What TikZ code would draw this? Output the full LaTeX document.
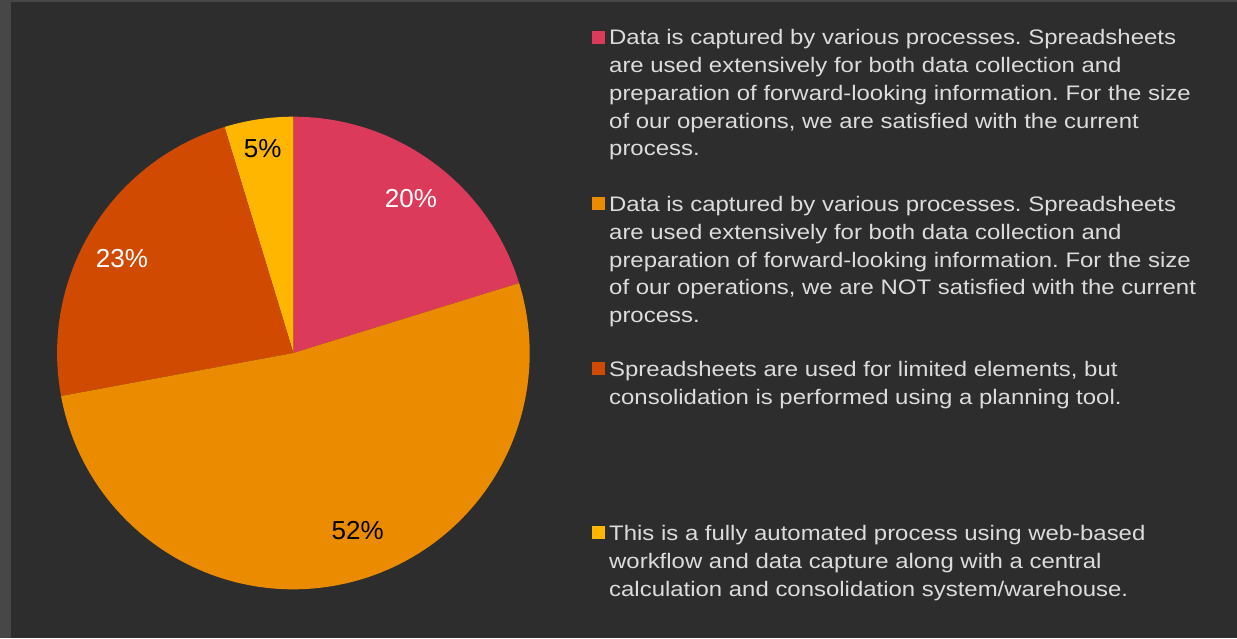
\documentclass[tikz,border=0pt]{standalone}
\usepackage{fontspec}
\setmainfont{Liberation Sans}
\newfontfamily\legfont[FakeStretch=1.14]{Liberation Sans}
\frenchspacing
\definecolor{bgc}{HTML}{2D2D2D}
\definecolor{framec}{HTML}{474747}
\definecolor{rosec}{HTML}{DB3A5A}
\definecolor{orangec}{HTML}{EB8C00}
\definecolor{darkorangec}{HTML}{D04A02}
\definecolor{yellowc}{HTML}{FFB600}
\definecolor{legtext}{HTML}{DCDCDC}
\begin{document}
\begin{tikzpicture}[x=1pt,y=1pt,
  pct/.style={font=\fontsize{26}{30}\selectfont, inner sep=0pt, anchor=center},
  legitem/.style={font=\legfont\fontsize{21}{27.7}\selectfont, text=legtext, align=left, inner sep=0pt, anchor=base west},
  legkey/.style={minimum size=13pt, inner sep=0pt, anchor=south west}]
% background
\fill[framec] (0,0) rectangle (1237,638);
\fill[bgc] (11,0) rectangle (1237,636);
\useasboundingbox (0,0) rectangle (1237,638);
% pie
\coordinate (ctr) at (293.4,285);
\def\R{236.3}
\fill[rosec] (ctr) -- ++(17.2:\R) arc[start angle=17.2, end angle=90, radius=\R] -- cycle;
\fill[yellowc] (ctr) -- ++(90:\R) arc[start angle=90, end angle=106.95, radius=\R] -- cycle;
\fill[darkorangec] (ctr) -- ++(106.95:\R) arc[start angle=106.95, end angle=190.5, radius=\R] -- cycle;
\fill[orangec] (ctr) -- ++(190.5:\R) arc[start angle=190.5, end angle=377.2, radius=\R] -- cycle;
% percentage labels
\node[pct, text=white] (p20) at (411,439) {20\%};
\node[pct, text=black] (p5) at (262.6,489) {5\%};
\node[pct, text=white] (p23) at (122,379) {23\%};
\node[pct, text=black] (p52) at (357.7,107) {52\%};
% legend (anchored at the baseline of the last line)
\node[legkey, fill=rosec] (k1) at (591.3,638-43.9) {};
\node[legitem] (l1) at (609,638-155.8) {Data is captured by various processes. Spreadsheets\\are used extensively for both data collection and\\preparation of forward-looking information. For the size\\of our operations, we are satisfied with the current\\process.};
\node[legkey, fill=orangec] (k2) at (591.3,638-210.6) {};
\node[legitem] (l2) at (609,638-322.5) {Data is captured by various processes. Spreadsheets\\are used extensively for both data collection and\\preparation of forward-looking information. For the size\\of our operations, we are NOT satisfied with the current\\process.};
\node[legkey, fill=darkorangec] (k3) at (591.3,638-375.6) {};
\node[legitem] (l3) at (609,638-404.4) {Spreadsheets are used for limited elements, but\\consolidation is performed using a planning tool.};
\node[legkey, fill=yellowc] (k4) at (591.3,638-539.6) {};
\node[legitem] (l4) at (609,638-596) {This is a fully automated process using web-based\\workflow and data capture along with a central\\calculation and consolidation system/warehouse.};
\end{tikzpicture}
\end{document}
